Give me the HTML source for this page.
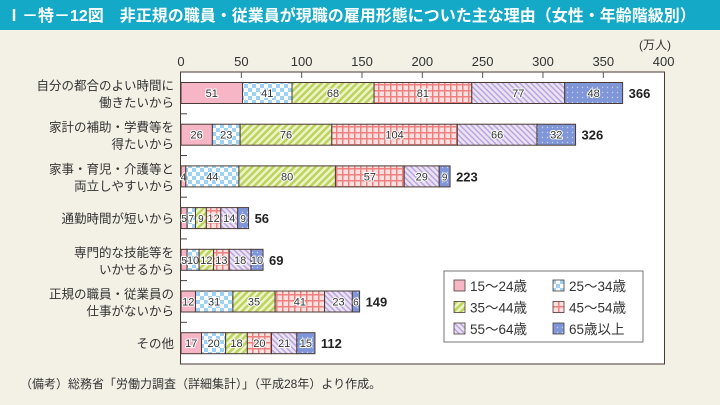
<!DOCTYPE html>
<html><head><meta charset="utf-8"><style>
body{margin:0;width:720px;height:405px;background:#f3f0e6;overflow:hidden}
svg{display:block}
text{font-family:"Liberation Sans","Noto Sans CJK JP",sans-serif}
</style></head><body>
<svg id="s" width="720" height="405" xmlns="http://www.w3.org/2000/svg">
<defs>
<pattern id="p0" width="4" height="4" patternUnits="userSpaceOnUse"><rect width="4" height="4" fill="#f7b6c6"/></pattern>
<pattern id="p1" width="8" height="8" patternUnits="userSpaceOnUse"><rect width="8" height="8" fill="#fff"/><rect width="4" height="4" fill="#9ed2f2"/><rect x="4" y="4" width="4" height="4" fill="#9ed2f2"/></pattern>
<pattern id="p2" width="5" height="5" patternUnits="userSpaceOnUse" patternTransform="rotate(45)"><rect width="5" height="5" fill="#eef3c8"/><rect width="2.5" height="5" fill="#bcd35e"/></pattern>
<pattern id="p3" width="6" height="6" patternUnits="userSpaceOnUse"><rect width="6" height="6" fill="#fbe0e0"/><rect width="6" height="1.5" fill="#ee8080"/><rect width="1.5" height="6" fill="#ee8080"/></pattern>
<pattern id="p4" width="4" height="4" patternUnits="userSpaceOnUse" patternTransform="rotate(-45)"><rect width="4" height="4" fill="#ebe3f5"/><rect width="1.5" height="4" fill="#b9a6dc"/></pattern>
<pattern id="p5" width="5" height="5" patternUnits="userSpaceOnUse"><rect width="5" height="5" fill="#7f96d8"/><circle cx="2.5" cy="2.5" r="0.7" fill="#c9d3f0"/></pattern>
</defs>
<rect x="0" y="0" width="720" height="30" fill="#14a9c6"/>
<text x="6" y="21" font-size="16" fill="#fff" font-weight="bold">Ⅰ－特－12図　非正規の職員・従業員が現職の雇用形態についた主な理由（女性・年齢階級別）</text>
<rect x="180.5" y="72" width="484" height="292" fill="#fff" stroke="#4a3a36" stroke-width="1"/>
<rect x="444" y="271" width="199" height="71" fill="#fff" stroke="#555" stroke-width="0.8"/>
<g id="g"></g>
<text x="655" y="49" font-size="12" fill="#333" text-anchor="middle">(万人)</text>
<text x="20" y="388" font-size="12" fill="#333">（備考）総務省「労働力調査（詳細集計）」（平成28年）より作成。</text>
</svg>
<script>
var g=document.getElementById('g'),ns='http://www.w3.org/2000/svg';
function el(t,a,txt){var e=document.createElementNS(ns,t);for(var k in a)e.setAttribute(k,a[k]);if(txt!=null)e.textContent=txt;g.appendChild(e);return e;}
var x0=181,k=1.2066;
for(var v=0;v<=400;v+=50){var x=x0+v*k;el('text',{x:x,y:66,'font-size':13,fill:'#333','text-anchor':'middle'},v);if(v>0&&v<400)el('line',{x1:x,x2:x,y1:72,y2:78,stroke:'#555','stroke-width':1});}
var rows=[[["自分の都合のよい時間に","働きたいから"],[51,41,68,81,77,48],366],
[["家計の補助・学費等を","得たいから"],[26,23,76,104,66,32],326],
[["家事・育児・介護等と","両立しやすいから"],[4,44,80,57,29,9],223],
[["通勤時間が短いから"],[5,7,9,12,14,9],56],
[["専門的な技能等を","いかせるから"],[5,10,12,13,18,10],69],
[["正規の職員・従業員の","仕事がないから"],[12,31,35,41,23,6],149],
[["その他"],[17,20,18,20,21,15],112]];
rows.forEach(function(r,i){var cy=93+41.7*i;var x=x0;
 r[1].forEach(function(v,j){var w=v*k;el('rect',{x:x,y:cy-10.5,width:w,height:21,fill:'url(#p'+j+')',stroke:'#4a3a36','stroke-width':1});
  var fs=v<10?10:11;el('text',{x:x+w/2,y:cy+4,'font-size':fs,fill:'#333','text-anchor':'middle',stroke:'#fff','stroke-width':2,'paint-order':'stroke'},v);x+=w;});
 el('text',{x:x+6,y:cy+5,'font-size':13,'font-weight':'bold',fill:'#222'},r[2]);
 if(r[0].length==2){el('text',{x:174,y:cy-3,'font-size':12.5,fill:'#333','text-anchor':'end'},r[0][0]);el('text',{x:174,y:cy+14,'font-size':12.5,fill:'#333','text-anchor':'end'},r[0][1]);}
 else el('text',{x:174,y:cy+5,'font-size':12.5,fill:'#333','text-anchor':'end'},r[0][0]);
 if(i<6)el('line',{x1:181,x2:187,y1:cy+20.8,y2:cy+20.8,stroke:'#444','stroke-width':1});
});
var lg=["15～24歳","25～34歳","35～44歳","45～54歳","55～64歳","65歳以上"];
lg.forEach(function(t,j){var c=j%2,r=Math.floor(j/2);var x=454+c*99,y=280+r*21.5;
 el('rect',{x:x,y:y,width:11,height:11,fill:'url(#p'+j+')',stroke:'#4a3a36','stroke-width':0.8});
 el('text',{x:x+16,y:y+11,'font-size':13.5,fill:'#333'},t);});
</script>
</body></html>
